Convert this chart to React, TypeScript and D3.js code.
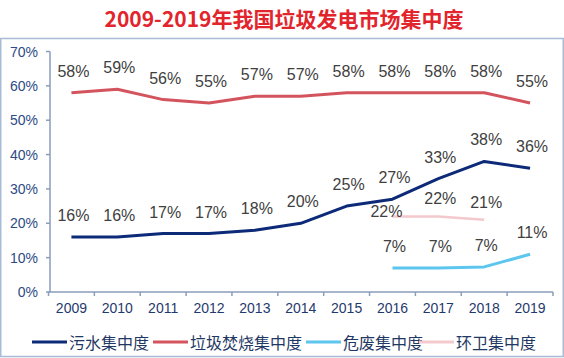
import React from "react";
import * as d3 from "d3";

const years = ["2009","2010","2011","2012","2013","2014","2015","2016","2017","2018","2019"];
const sewage = [16, 16, 17, 17, 18, 20, 25, 27, 33, 38, 36];
const incineration = [58, 59, 56, 55, 57, 57, 58, 58, 58, 58, 55];
const hazardous: (number | null)[] = [null, null, null, null, null, null, null, 7, 7, 7.3, 11];
const hazardousLabels = ["", "", "", "", "", "", "", "7%", "7%", "7%", "11%"];
const sanitation: (number | null)[] = [null, null, null, null, null, null, null, 22, 22, 21, null];
const yTicks = [0, 10, 20, 30, 40, 50, 60, 70];
const title = "2009-2019年我国垃圾发电市场集中度";
const legendNames = ["污水集中度", "垃圾焚烧集中度", "危废集中度", "环卫集中度"];

const W = 564, H = 358;
const x = d3.scaleBand<string>().domain(years).range([48.5, 553]).paddingInner(0).paddingOuter(0);
const y = d3.scaleLinear().domain([0, 70]).range([292, 51.5]);
const cx = (yr: string) => (x(yr) as number) + x.bandwidth() / 2;

const LBL = "'Liberation Sans', Arial, sans-serif";
const CJK = "'Noto Sans CJK SC', 'Noto Sans', sans-serif";

type Series = { name: string; values: (number | null)[]; color: string; width: number; labels?: string[] };
const series: Series[] = [
  { name: legendNames[0], values: sewage, color: "#0c2a78", width: 3 },
  { name: legendNames[1], values: incineration, color: "#d4545e", width: 3 },
  { name: legendNames[2], values: hazardous, color: "#5cc6ee", width: 3, labels: hazardousLabels },
  { name: legendNames[3], values: sanitation, color: "#f3c9cd", width: 2.5 },
];

const line = d3
  .line<{ yr: string; v: number | null }>()
  .defined((d) => d.v !== null)
  .x((d) => cx(d.yr))
  .y((d) => y(d.v as number))
  .curve(d3.curveLinear);

export default function App() {
  const boundaries = [...years.map((yr) => x(yr) as number), 553];
  const legendX = [32, 153, 306, 419];
  return (
    <svg width={W} height={H} style={{ position: "absolute", left: 0, top: 0, background: "#fff" }}>
      <text x={284} y={27} textAnchor="middle" fontFamily={CJK} fontSize={21} fontWeight={700} fill="#e2242c">
        {title}
      </text>
      <rect x={0.75} y={38.5} width={562.5} height={318} fill="none" stroke="#a8bcd8" strokeWidth={1.5} />

      {/* y axis */}
      <line x1={50} x2={50} y1={y(70)} y2={y(0)} stroke="#8a9dbb" strokeWidth={1.5} />
      {yTicks.map((t) => (
        <g key={t}>
          <line x1={46} x2={50} y1={y(t)} y2={y(t)} stroke="#8a9dbb" strokeWidth={1.5} />
          <text x={38} y={y(t) + 5} textAnchor="end" fontFamily={LBL} fontSize={14} fill="#2d4a85">
            {t}%
          </text>
        </g>
      ))}
      {/* x axis */}
      <line x1={48.5} x2={553} y1={y(0)} y2={y(0)} stroke="#8a9dbb" strokeWidth={1.5} />
      {boundaries.map((b, i) => (
        <line key={i} x1={b} x2={b} y1={y(0)} y2={y(0) + 4} stroke="#8a9dbb" strokeWidth={1.5} />
      ))}
      {years.map((yr) => (
        <text key={yr} x={cx(yr)} y={313} textAnchor="middle" fontFamily={LBL} fontSize={14} fill="#1f3a6e">
          {yr}
        </text>
      ))}

      {/* lines */}
      {series.map((s) => (
        <path
          key={s.name}
          d={line(years.map((yr, i) => ({ yr, v: s.values[i] }))) || ""}
          fill="none"
          stroke={s.color}
          strokeWidth={s.width}
          strokeLinejoin="round"
        />
      ))}

      {/* labels */}
      {series.map((s, si) =>
        years.map((yr, i) => {
          const v = s.values[i];
          if (v === null) return null;
          const txt = s.labels ? s.labels[i] : `${v}%`;
          let dx = 2;
          let dy = -16;
          if (si === 3 && i === 7) {
            dx = -6;
            dy = 1;
          }
          if (si === 3 && i > 7) dy = -12;
          return (
            <text
              key={s.name + yr}
              x={cx(yr) + dx}
              y={y(v) + dy}
              textAnchor="middle"
              fontFamily={LBL}
              fontSize={16}
              fill="#404040"
            >
              {txt}
            </text>
          );
        })
      )}

      {/* legend */}
      {series.map((s, i) => (
        <g key={s.name}>
          <line x1={legendX[i]} x2={legendX[i] + 35} y1={342} y2={342} stroke={s.color} strokeWidth={3} />
          <text x={legendX[i] + 37} y={349} fontFamily={CJK} fontSize={16} fill="#1f3864">
            {s.name}
          </text>
        </g>
      ))}
    </svg>
  );
}
